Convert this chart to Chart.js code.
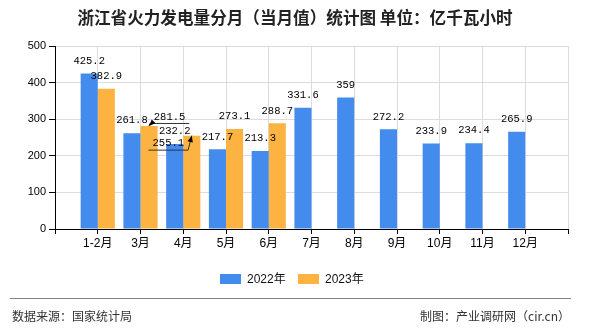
<!DOCTYPE html>
<html lang="zh">
<head>
    <meta charset="UTF-8">
    <title>浙江省火力发电量分月（当月值）统计图</title>
    <style>
        body {
            margin: 0;
            padding: 0;
            background-color: #fff;
            font-family: 'Noto Sans CJK SC', 'Liberation Sans', sans-serif;
        }

        .wrap {
            position: relative;
            width: 590px;
            height: 330px;
            overflow: hidden;
        }

        #chart {
            position: absolute;
            left: 0;
            top: 0;
        }

        .title {
            position: absolute;
            left: 0;
            top: 6px;
            width: 590px;
            text-align: center;
            font-size: 16.6px;
            font-weight: bold;
            line-height: 22px;
            color: #222;
        }

        .legend {
            position: absolute;
            top: 270px;
            left: 220px;
            font-family: 'Liberation Sans', 'Noto Sans CJK SC', sans-serif;
            font-size: 12px;
            line-height: 18px;
            color: #111;
        }

        .legend span {
            position: absolute;
            white-space: nowrap;
        }

        .legend i {
            position: absolute;
            width: 21px;
            height: 10px;
        }

        .rule {
            position: absolute;
            left: 10px;
            top: 298px;
            width: 561px;
            height: 1px;
            background-color: #808080;
        }

        .foot {
            position: absolute;
            top: 307px;
            font-size: 12px;
            line-height: 18px;
            color: #333;
            white-space: nowrap;
        }
    </style>
</head>
<body>
    <div class="wrap">
        <canvas id="chart" width="590" height="330"></canvas>
        <div class="title">浙江省火力发电量分月（当月值）统计图&nbsp;单位：亿千瓦小时</div>

        <div class="legend">
            <i style="left:0; top:4px; background:#448bee"></i>
            <span style="left:27px; top:0">2022年</span>
            <i style="left:78px; top:4px; background:#fcb341"></i>
            <span style="left:105px; top:0">2023年</span>
        </div>

        <div class="rule"></div>
        <div class="foot" style="left:12px">数据来源：国家统计局</div>
        <div class="foot" style="right:20px">制图：产业调研网（cir.cn）</div>
    </div>

    <script src="https://cdn.jsdelivr.net/npm/chart.js"></script>

    <script>
        // data
        const categories = ['1-2月', '3月', '4月', '5月', '6月', '7月', '8月', '9月', '10月', '11月', '12月'];
        const values2022 = [425.2, 261.8, 232.2, 217.7, 213.3, 331.6, 359, 272.2, 233.9, 234.4, 265.9];
        const values2023 = [382.9, 281.5, 255.1, 273.1, 288.7, null, null, null, null, null, null];
        const yTicks = [0, 100, 200, 300, 400, 500];

        // the axis has an empty slot on each side, so the labels sit on the grid lines
        const labels = [''].concat(categories, ['']);
        const pad = arr => [null].concat(arr, [null]);

        // labels that were pushed aside in the original, with a pointer back to the bar
        const labelNudge = {
            '1-2': [20.5, 3.5],
            '1-3': [-23.5, 20.5]
        };

        const valueLabels = {
            id: 'valueLabels',
            afterDatasetsDraw(chart) {
                const ctx = chart.ctx;
                ctx.save();
                ctx.font = '10.5px "Liberation Mono", monospace';
                ctx.fillStyle = '#000';
                ctx.textAlign = 'center';
                ctx.textBaseline = 'middle';
                chart.data.datasets.forEach((ds, di) => {
                    chart.getDatasetMeta(di).data.forEach((bar, i) => {
                        let v = ds.data[i];
                        if (v === null || v === undefined) return;
                        let text = String(v);
                        let nudge = labelNudge[di + '-' + i];
                        let x = bar.x, y = bar.y - 12.5;
                        if (nudge) {
                            x += nudge[0];
                            y += nudge[1];
                            let w = ctx.measureText(text).width;
                            let ly = y + 6.5;
                            let left = x - w / 2 - 4, right = x + w / 2 + 4;
                            let ex = Math.abs(left - bar.x) < Math.abs(right - bar.x) ? left : right;
                            ctx.strokeStyle = '#333';
                            ctx.lineWidth = 1;
                            ctx.beginPath();
                            ctx.moveTo(left, ly);
                            ctx.lineTo(right, ly);
                            ctx.moveTo(ex, ly);
                            ctx.lineTo(bar.x, bar.y);
                            ctx.stroke();
                            // arrow head at the bar top
                            let a = Math.atan2(bar.y - ly, bar.x - ex);
                            if (Math.abs(bar.x - ex) < 2 && Math.abs(bar.y - ly) < 4) a = Math.PI * 0.75;
                            ctx.fillStyle = '#000';
                            ctx.beginPath();
                            ctx.moveTo(bar.x, bar.y);
                            ctx.lineTo(bar.x - 7 * Math.cos(a - 0.4), bar.y - 7 * Math.sin(a - 0.4));
                            ctx.lineTo(bar.x - 7 * Math.cos(a + 0.4), bar.y - 7 * Math.sin(a + 0.4));
                            ctx.closePath();
                            ctx.fill();
                        }
                        ctx.fillStyle = '#000';
                        ctx.fillText(text, x, y);
                    });
                });
                ctx.restore();
            }
        };

        const ctx = document.getElementById('chart').getContext('2d');
        const chart = new Chart(ctx, {
            type: 'bar',
            data: {
                labels: labels,
                datasets: [{
                    label: '2022年',
                    data: pad(values2022),
                    backgroundColor: '#448bee',
                    categoryPercentage: 0.8,
                    barPercentage: 1.0
                }, {
                    label: '2023年',
                    data: pad(values2023),
                    backgroundColor: '#fcb341',
                    categoryPercentage: 0.8,
                    barPercentage: 1.0
                }]
            },
            options: {
                responsive: false,
                maintainAspectRatio: false,
                animation: false,
                layout: {
                    padding: { left: 0, right: 22, top: 46, bottom: 81 }
                },
                plugins: {
                    legend: { display: false },
                    title: { display: false },
                    tooltip: { enabled: false }
                },
                scales: {
                    x: {
                        offset: false,
                        grid: {
                            offset: false,
                            color: '#dcdcdc',
                            tickColor: '#000',
                            tickLength: 5
                        },
                        border: { color: '#000', width: 1 },
                        ticks: {
                            autoSkip: false,
                            maxRotation: 0,
                            padding: 2,
                            color: '#000',
                            font: { family: "'Liberation Sans', 'Noto Sans CJK SC', sans-serif", size: 12 }
                        },
                        afterFit: scale => { scale.height = 20; }
                    },
                    y: {
                        min: yTicks[0],
                        max: yTicks[yTicks.length - 1],
                        afterBuildTicks: scale => { scale.ticks = yTicks.map(v => ({ value: v })); },
                        grid: {
                            color: '#dcdcdc',
                            tickColor: '#000',
                            tickLength: 6
                        },
                        border: { color: '#000', width: 1 },
                        ticks: {
                            padding: 3,
                            color: '#000',
                            font: { family: "'Liberation Sans', sans-serif", size: 11 }
                        },
                        afterFit: scale => { scale.width = 55; }
                    }
                }
            },
            plugins: [valueLabels]
        });
    </script>
</body>
</html>
